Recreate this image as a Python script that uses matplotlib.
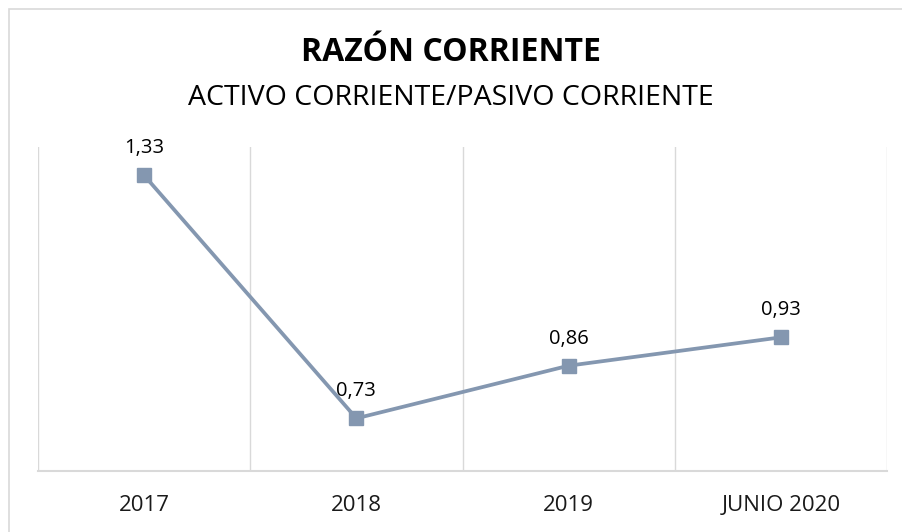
import matplotlib
matplotlib.use("Agg")
import matplotlib.pyplot as plt
from matplotlib.patches import Rectangle

categories = ["2017", "2018", "2019", "JUNIO 2020"]
values = [1.33, 0.73, 0.86, 0.93]
title = "RAZÓN CORRIENTE"
subtitle = "ACTIVO CORRIENTE/PASIVO CORRIENTE"

plt.rcParams["font.family"] = ["Open Sans", "DejaVu Sans"]

W, H = 902, 532
fig = plt.figure(figsize=(W / 100, H / 100), dpi=100)
fig.patch.set_facecolor("white")

# outer chart border (top/left visible)
fig.add_artist(Rectangle((9 / W, -0.1), 1.2, (H - 9) / H + 0.1,
                         transform=fig.transFigure, fill=False,
                         edgecolor="#D9D9D9", linewidth=1.2))

left, right, top, bottom = 38, 887, 147, 471
ax = fig.add_axes([left / W, (H - bottom) / H, (right - left) / W, (bottom - top) / H])

x = list(range(len(categories)))
color = "#8497B0"
ax.plot(x, values, color=color, linewidth=2.7, marker="s", markersize=10.5,
        markerfacecolor=color, markeredgecolor=color, zorder=3)

for xi, v in zip(x, values):
    ax.annotate(f"{v:.2f}".replace(".", ","), (xi, v), xytext=(0, 19.5),
                textcoords="offset points", ha="center", va="center",
                fontsize=14.5, color="#000000")

ax.set_xlim(-0.5, len(categories) - 0.5)
ax.set_ylim(0.6, 1.4)
ax.set_yticks([])
ax.set_xticks(x)
ax.set_xticklabels(categories, fontsize=16, color="#1a1a1a")
ax.tick_params(axis="x", length=0, pad=17)

for b in [i - 0.5 for i in range(len(categories) + 1)]:
    ax.axvline(b, color="#D9D9D9", linewidth=1.0, zorder=1)

for s in ["top", "right", "left"]:
    ax.spines[s].set_visible(False)
ax.spines["bottom"].set_color("#D9D9D9")
ax.spines["bottom"].set_linewidth(1.5)

fig.text(0.5, (H - 61) / H, title, ha="center", va="baseline",
         fontsize=23, fontweight="bold", color="#000000")
fig.text(0.5, (H - 105) / H, subtitle, ha="center", va="baseline",
         fontsize=20.5, color="#000000")

fig.savefig("out.png", dpi=100)
